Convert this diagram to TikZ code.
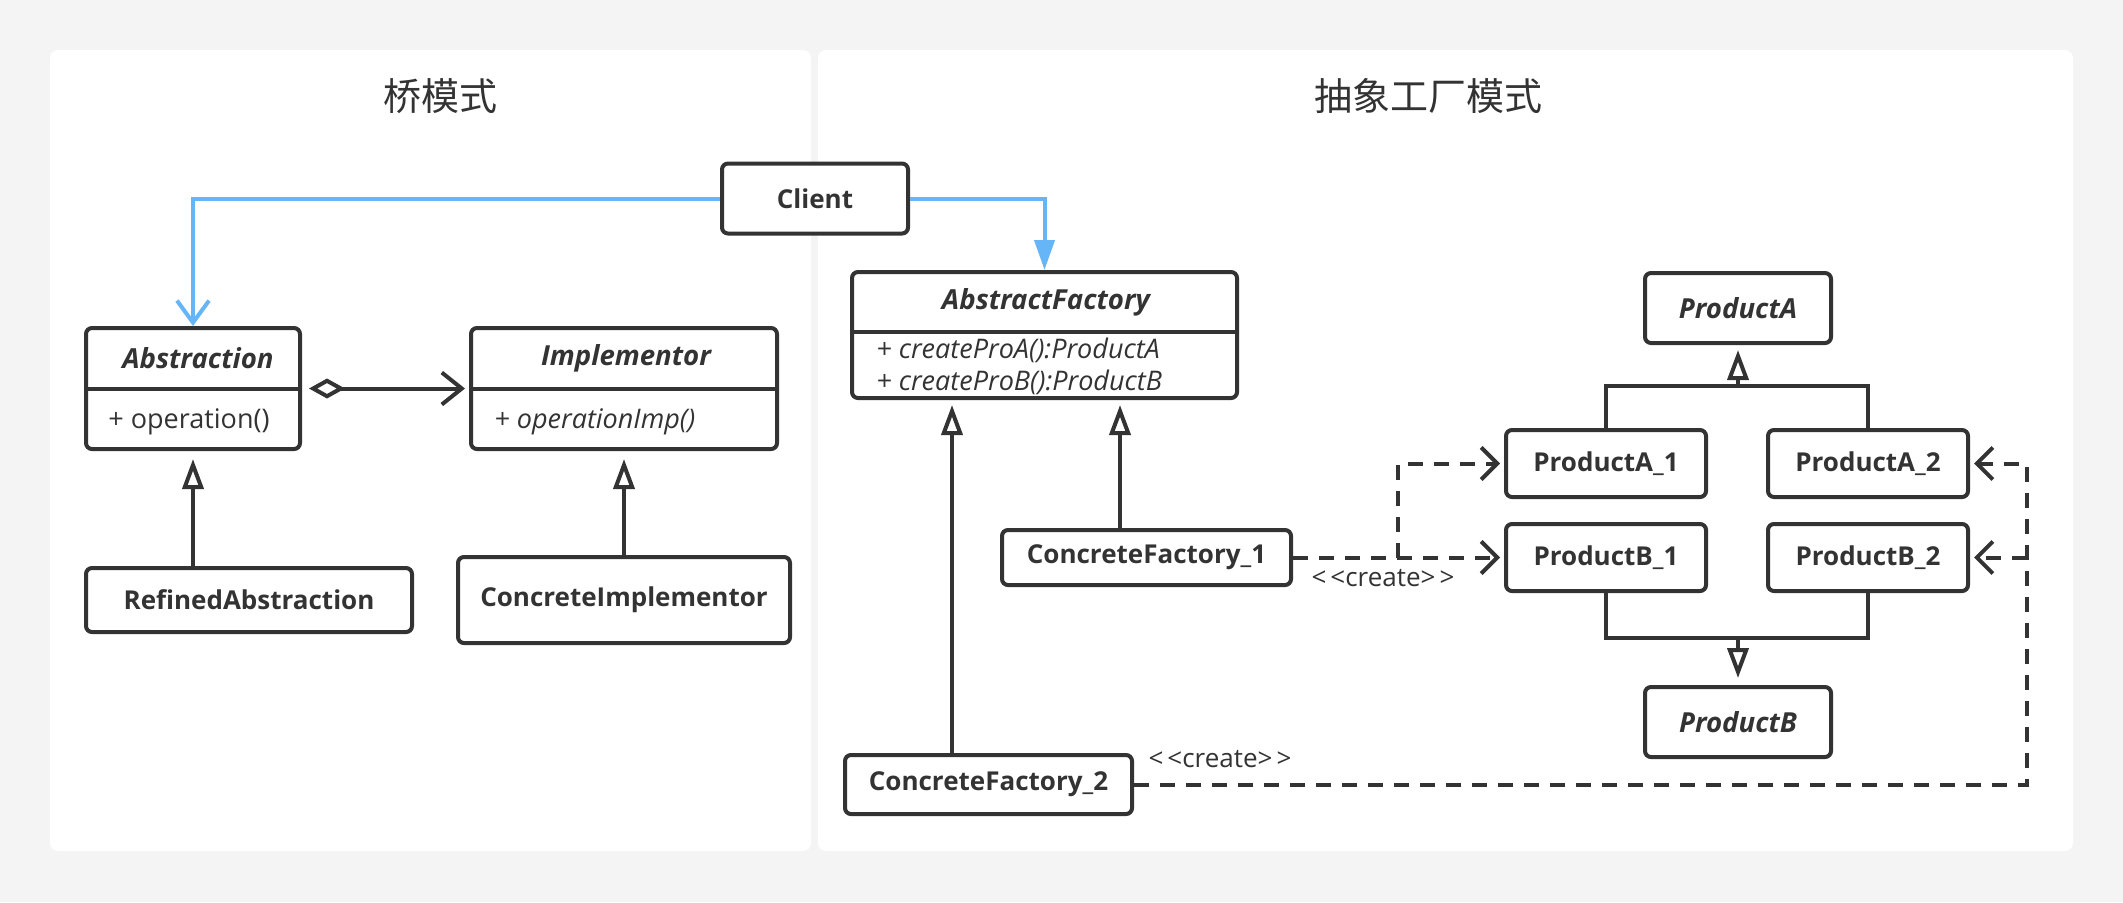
\documentclass[tikz,border=0pt]{standalone}
\usepackage{fontspec}
\setmainfont{Open Sans}
\newfontfamily\cjk{Noto Sans CJK SC}
\usepackage{tikz}
\usetikzlibrary{arrows.meta, shapes.geometric}
\definecolor{linea}{HTML}{333333}
\definecolor{azul}{HTML}{66B5F6}
\definecolor{fondo}{HTML}{F4F4F4}
\tikzstyle{caja} = [draw=linea, line width=2pt, rounded corners=3pt, fill=white, inner sep=0pt, text=linea, font=\bfseries\fontsize{13}{15}\selectfont]
\tikzstyle{nombre} = [inner sep=0pt, text=linea, font=\bfseries\itshape\fontsize{13.8}{16}\selectfont]
\tikzstyle{metodo} = [anchor=west, inner sep=0pt, text=linea, font=\fontsize{13.5}{16}\selectfont]
\tikzstyle{titulo} = [inner sep=0pt, text=linea, font=\cjk\fontsize{19}{22}\selectfont]
\tikzstyle{etiqueta} = [inner sep=0pt, text=linea, font=\fontsize{13}{15}\selectfont]
\tikzstyle{sep} = [draw=linea, line width=2pt]
\tikzstyle{herencia} = [draw=linea, line width=2pt, -{Triangle[open, length=15pt, width=10.5pt]}]
\tikzstyle{asoc} = [draw=azul, line width=2pt]
\tikzstyle{crea} = [draw=linea, line width=2pt, dash pattern=on 7.5pt off 5.5pt, shorten >=2pt, -{Straight Barb[length=8pt, width=16pt]}]

\begin{document}
\begin{tikzpicture}[x=0.5pt, y=-0.5pt]
	\useasboundingbox (0,0) rectangle (2123,902);
	\fill[fondo] (0,0) rectangle (2123,902);
	\fill[white, rounded corners=4pt] (50,50) rectangle (811,851);
	\fill[white, rounded corners=4pt] (818,50) rectangle (2073,851);
	% titulos
	\node[titulo] (tpuente) at (440,96) {桥模式};
	\node[titulo] (tfabrica) at (1428,96) {抽象工厂模式};
	\node[caja, minimum width=93pt, minimum height=35pt] (client) at (815,198.5) {Client};
	% patron puente
	\node[caja, minimum width=107pt, minimum height=60.5pt] (abs) at (193,388.5) {};
	\node[caja, minimum width=153pt, minimum height=60.5pt] (imp) at (624,388.5) {};
	\draw[sep] (abs.west) -- (abs.east);
	\draw[sep] (imp.west) -- (imp.east);
	\node[nombre] (absn) at (198,358) {Abstraction};
	\node[nombre] (impn) at (626,358) {Implementor};
	\node[metodo] (absm) at (108,422) {+ operation()};
	\node[metodo] (impm) at (494,422) {\itshape + operationImp()};
	\node[caja, minimum width=163pt, minimum height=32pt] (refabs) at (249,600) {RefinedAbstraction};
	\node[caja, minimum width=166pt, minimum height=43pt] (conimp) at (624,600) {ConcreteImplementor};
	\draw[herencia, shorten >=4pt] (refabs.north -| abs) -- (abs.south);
	\draw[herencia, shorten >=4pt] (conimp.north) -- (imp.south);
	\draw[draw=linea, line width=2pt, shorten <=3.5pt, shorten >=2pt,
		{Diamond[open, length=18pt, width=10pt]}-{Straight Barb[length=10pt, width=16pt]}] (abs.east) -- (imp.west);
	% fabrica abstracta
	\node[caja, minimum width=192.5pt, minimum height=63pt] (af) at (1044.5,335) {};
	\draw[sep] ([yshift=1.5pt]af.west) -- ([yshift=1.5pt]af.east);
	\node[nombre] (afn) at (1046,302) {AbstractFactory};
	\node[metodo] (afa) at (876,350) {\itshape + createProA():ProductA};
	\node[metodo] (afb) at (876,382) {\itshape + createProB():ProductB};
	\node[caja, minimum width=144.5pt, minimum height=27.5pt] (cf1) at (1146.5,557.5) {ConcreteFactory\_1};
	\node[caja, minimum width=143.5pt, minimum height=29.5pt] (cf2) at (988.5,784.5) {ConcreteFactory\_2};
	\coordinate (ha) at (952,0);
	\coordinate (hb) at (1120,0);
	\draw[herencia, shorten >=2.5pt] (cf1.north -| hb) -- (af.south -| hb);
	\draw[herencia, shorten >=2.5pt] (cf2.north -| ha) -- (af.south -| ha);
	% cliente
	\draw[asoc, -{Straight Barb[length=11pt, width=16pt]}] (client.west) -| (abs.north);
	\draw[asoc, -{Triangle[length=15pt, width=10pt]}] (client.east) -| (af.north);
	% productos
	\foreach \nombre/\Xc/\Yc/\Texto in 
	{pa1/1606/463.5/ProductA\_1, pa2/1868/463.5/ProductA\_2, pb1/1606/557.5/ProductB\_1, pb2/1868/557.5/ProductB\_2}
	{
		\node[caja, minimum width=100pt, minimum height=33.5pt] (\nombre) at (\Xc,\Yc) {\Texto};
	}
	\foreach \nombre/\Yc/\Texto in {pa/308/ProductA, pb/722/ProductB}
	{
		\node[caja, font=\bfseries\itshape\fontsize{13.8}{16}\selectfont, minimum width=93pt, minimum height=35pt] (\nombre) at (1738,\Yc) {\Texto};
	}
	\coordinate (ja) at (1738,386);
	\coordinate (jb) at (1738,638);
	\draw[sep] (pa1.north) |- (ja) -| (pa2.north);
	\draw[herencia, shorten >=2.5pt] (ja) -- (pa.south);
	\draw[sep] (pb1.south) |- (jb) -| (pb2.south);
	\draw[herencia, shorten >=3.5pt] (jb) -- (pb.north);
	% <<create>>
	\coordinate (ra) at (1398,557.5);
	\draw[crea] (cf1.east) -- (pb1.west);
	\draw[crea] (ra) |- (pa1.west);
	\node[etiqueta] (c1) at (1383,578) {<\kern2pt<create>\kern2pt>};
	\coordinate (rb) at (2027,784.5);
	\draw[crea] (cf2.east) -- (rb) |- (pa2.east);
	\draw[crea] (rb |- pb2.east) -- (pb2.east);
	\node[etiqueta] (c2) at (1220,759) {<\kern2pt<create>\kern2pt>};
\end{tikzpicture}
\end{document}
